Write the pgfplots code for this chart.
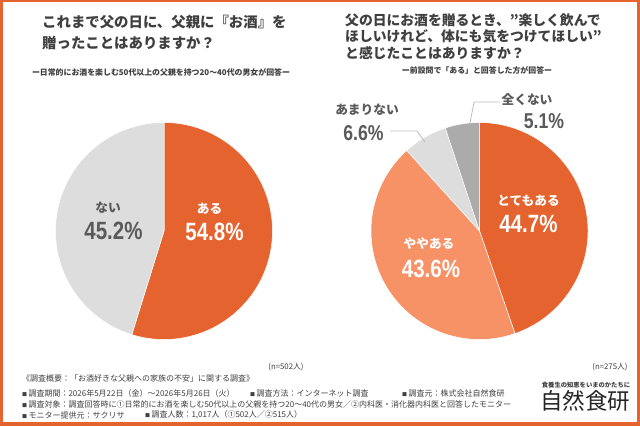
\documentclass[border=0pt]{standalone}
\usepackage{fontspec}
\usepackage{pgfplots}
\pgfplotsset{compat=1.18}
\setmainfont{Noto Sans CJK JP}
\newfontfamily\jp{Noto Sans CJK JP}
\newfontfamily\num{Liberation Sans}[FakeStretch=0.82]

\definecolor{ora}{HTML}{E5632F}
\definecolor{sal}{HTML}{F79166}
\definecolor{lgr}{HTML}{DDDDDD}
\definecolor{dgr}{HTML}{ABABAB}
\definecolor{ttl}{HTML}{3F3F3F}
\definecolor{lbl}{HTML}{5A5A5A}
\definecolor{ftr}{HTML}{404040}
\definecolor{lead}{HTML}{BDBDBD}

% one wedge: start share, end share (percent, clockwise from 12 o'clock), colour
\newcommand{\pieslice}[3]{%
  \addplot[draw=white, line width=0.5pt, fill=#3, domain=#1*3.6:#2*3.6, samples=120]
    ({sin(x)},{cos(x)}) -- (0,0) -- cycle;}

\newcommand{\fs}[1]{\fontsize{#1bp}{#1bp}\selectfont}
\newcommand{\sq}{{\fs{5}■}\,}

\pgfplotsset{pie/.style={anchor=center, x=108.5bp, y=108.5bp,
  xmin=-1, xmax=1, ymin=-1, ymax=1, hide axis, clip=false}}

\begin{document}
\begin{tikzpicture}[x=1bp, y=1bp]
\useasboundingbox (0,0) rectangle (640,426);
\fill[white] (0,0) rectangle (640,426);

% ---- left pie: gifted sake on Father's Day (n=502)
\begin{axis}[pie, at={(164bp,195bp)}]
  \pieslice{0}{54.8}{ora}
  \pieslice{54.8}{100}{lgr}
\end{axis}

% ---- right pie: wished they would drink in moderation (n=275)
\begin{axis}[pie, at={(479.5bp,195bp)}]
  \pieslice{0}{44.7}{ora}
  \pieslice{44.7}{88.3}{sal}
  \pieslice{88.3}{94.9}{lgr}
  \pieslice{94.9}{100}{dgr}
\end{axis}

% leader lines for the thin slices
\draw[lead, line width=0.8pt] (390,295) -- (417,295) -- (425,284);
\draw[lead, line width=0.8pt] (470,303) -- (474,324) -- (500,324);

% ---- slice labels
\begin{scope}[every node/.style={inner sep=0pt}]
\node[lbl, font=\jp\bfseries\fs{12.7}] at (108,218) {ない};
\node[lbl, font=\num\bfseries\fs{25}, anchor=base] at (113.5,187) {45.2\%};
\node[white, font=\jp\bfseries\fs{12.7}] at (209.5,217.5) {ある};
\node[white, font=\num\bfseries\fs{25}, anchor=base] at (214.5,186) {54.8\%};

\node[white, font=\jp\bfseries\fs{12.7}] at (528.5,225) {とてもある};
\node[white, font=\num\bfseries\fs{25}, anchor=base] at (528.5,194) {44.7\%};
\node[white, font=\jp\bfseries\fs{12.7}] at (429,182) {ややある};
\node[white, font=\num\bfseries\fs{25}, anchor=base] at (431,149) {43.6\%};
\node[lbl, font=\jp\bfseries\fs{12.7}] at (367,316) {あまりない};
\node[lbl, font=\num\bfseries\fs{21.5}, anchor=base] at (363.5,286) {6.6\%};
\node[lbl, font=\jp\bfseries\fs{12.7}] at (527,326) {全くない};
\node[lbl, font=\num\bfseries\fs{21.5}, anchor=base] at (544,298) {5.1\%};

% ---- titles
\node[ttl, font=\jp\bfseries\fs{14.4}, anchor=west] at (42,404) {これまで父の日に、父親に『お酒』を};
\node[ttl, font=\jp\bfseries\fs{14.4}, anchor=west] at (42,383) {贈ったことはありますか？};
\node[ttl, font=\jp\bfseries\fs{7.9}] at (161,354) {ー日常的にお酒を楽しむ50代以上の父親を持つ20～40代の男女が回答ー};

\node[ttl, font=\jp\bfseries\fs{13.8}, anchor=west] at (345,405.3) {父の日にお酒を贈るとき、”楽しく飲んで};
\node[ttl, font=\jp\bfseries\fs{13.8}, anchor=west] at (345,389.3) {ほしいけれど、体にも気をつけてほしい”};
\node[ttl, font=\jp\bfseries\fs{13.8}, anchor=west] at (345,372.7) {と感じたことはありますか？};
\node[ttl, font=\jp\bfseries\fs{7.9}] at (477,355.5) {ー前設問で「ある」と回答した方が回答ー};

% ---- sample sizes
\node[ftr, font=\jp\fs{7.8}] at (286,59) {(n=502人)};
\node[ftr, font=\jp\fs{7.8}] at (610,59) {(n=275人)};

% ---- survey notes
\node[ftr, font=\jp\fs{8}, anchor=west] at (22,48) {《調査概要：「お酒好きな父親への家族の不安」に関する調査》};
\node[ftr, font=\jp\fs{8}, anchor=west] at (22,33) {\sq 調査期間：2026年5月22日（金）～2026年5月26日（火）};
\node[ftr, font=\jp\fs{8}, anchor=west] at (250,33) {\sq 調査方法：インターネット調査};
\node[ftr, font=\jp\fs{8}, anchor=west] at (402,33) {\sq 調査元：株式会社自然食研};
\node[ftr, font=\jp\fs{8}, anchor=west] at (22,22) {\sq 調査対象：調査回答時に①日常的にお酒を楽しむ50代以上の父親を持つ20～40代の男女／②内科医・消化器内科医と回答したモニター};
\node[ftr, font=\jp\fs{8}, anchor=west] at (22,11) {\sq モニター提供元：サクリサ};
\node[ftr, font=\jp\fs{8}, anchor=west] at (145,11) {\sq 調査人数：1,017人（①502人／②515人）};

% ---- logo
\node[ftr, font=\jp\bfseries\fs{6.3}] at (586,41) {食養生の知恵をいまのかたちに};
\node[black!85, font=\jp\fs{22.5}] at (585,25) {自然食研};
\end{scope}

% ---- frame
\fill[ora] (0,0) rectangle (640,4.5);
\fill[ora] (0,0) rectangle (3,426);
\fill[ora] (637,0) rectangle (640,426);
\fill[ora] (0,424) rectangle (640,426);
\end{tikzpicture}
\end{document}
